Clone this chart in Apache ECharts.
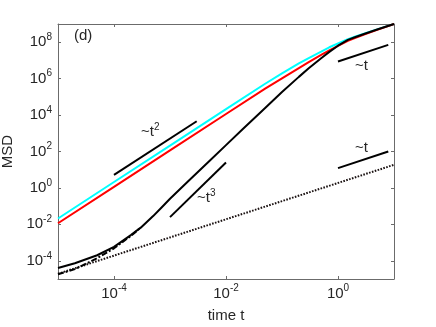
<!DOCTYPE html>
<html><head><meta charset="utf-8">
<script src="https://cdn.jsdelivr.net/npm/echarts@6/dist/echarts.min.js"></script>
<style>html,body{margin:0;padding:0;background:#fff}#c{width:436px;height:327px}</style>
</head><body><div id="c"></div>
<script>
// ---- data (time t, MSD) ----
const cyanTime = [1e-5,1e-4,1e-3,1e-2,0.05,0.1,0.2,0.3,0.5,0.7,1,1.5,2,3,5,10];
const cyanMSD  = [0.0210,2.11,210,2.11e4,5.24e5,1.95e6,6.81e6,1.35e7,3.06e7,5.27e7,8.51e7,1.45e8,1.99e8,3.01e8,5.06e8,1.0e9];
const redTime  = [1e-5,1e-4,1e-3,1e-2,0.05,0.1,0.2,0.3,0.5,0.7,1,1.5,2,3,5,10];
const redMSD   = [0.0115,1.15,115,1.15e4,2.85e5,1.04e6,3.80e6,8.11e6,1.99e7,3.61e7,6.28e7,1.18e8,1.68e8,2.69e8,4.74e8,1.0e9];
const blackTime = [1e-5,2e-5,5e-5,1e-4,2e-4,3e-4,5e-4,7e-4,1e-3,2e-3,5e-3,0.01,0.02,0.05,0.1,0.2,0.3,0.5,0.7,1,1.5,2,3,5,10];
const blackMSD  = [3.99e-5,7.31e-5,2.01e-4,5.81e-4,2.58e-3,6.58e-3,0.0284,0.0822,0.253,1.99,29.2,224,1.71e3,2.43e4,1.83e5,1.25e6,3.71e6,1.33e7,2.94e7,6.44e7,1.34e8,1.86e8,2.90e8,4.99e8,1.0e9];
const dashDotTime = [1e-5,2e-5,5e-5,1e-4,2e-4,3e-4];
const dashDotMSD  = [1.82e-5,3.47e-5,1.38e-4,4.86e-4,2.33e-3,6.58e-3];
const dottedTime = [1e-5,10];
const dottedMSD  = [1.94e-5,18.6];
// guide segments
const guideT2Time = [1e-4,3e-3],  guideT2MSD = [5.2,4.6e3];
const guideT3Time = [1e-3,1e-2],  guideT3MSD = [0.025,25];
const guideTUpTime = [1,7.9],     guideTUpMSD = [8.7e6,7.1e7];
const guideTLowTime = [1,7.9],    guideTLowMSD = [12.3,100];
// axis ranges (decades)
const xDecades = [-5,1];
const yDecades = [-5,9];

function pts(t, m){ return t.map((v,i)=>[Math.log10(v), Math.log10(m[i])]); }

const FONT = '"Liberation Sans", Arial, Helvetica, sans-serif';
const TXT = '#262626';
const AX = '#6b6b6b';
const richLab = {
  b: {fontSize: 15, lineHeight: 15, fontFamily: FONT, color: TXT},
  s: {fontSize: 10, lineHeight: 10, fontFamily: FONT, color: TXT, padding: [0,0,10,0]}
};
function powLabel(v){
  if (Math.round(v) !== v || Math.abs(v % 2) === 1) return '';
  return '{b|10}{s|' + v + '}';
}
const lineS = (name, t, m, color, type, w, z) => ({
  name, type: 'line', data: pts(t, m), showSymbol: false, symbol: 'none',
  lineStyle: {color, width: w, type}, z: z || 2, silent: true, animation: false
});

const chart = echarts.init(document.getElementById('c'), null, {renderer: 'canvas'});
const axisCommon = {
  type: 'value', splitLine: {show: false},
  axisLine: {show: true, onZero: false, lineStyle: {color: AX, width: 1}},
  axisTick: {show: true, inside: true, length: 3, lineStyle: {color: AX, width: 1}},
};
chart.setOption({
  animation: false,
  backgroundColor: '#fff',
  grid: {left: 58, right: 42, top: 24, bottom: 48, containLabel: false, outerBoundsMode: 'none'},
  xAxis: [
    Object.assign({}, axisCommon, {
      min: xDecades[0], max: xDecades[1], splitNumber: 3, position: 'bottom',
      name: 'time t', nameLocation: 'middle', nameGap: 20,
      nameTextStyle: {fontSize: 15, fontFamily: FONT, color: TXT},
      axisLabel: {show: true, margin: 7, showMinLabel: false, showMaxLabel: false, formatter: powLabel, rich: richLab}
    }),
    Object.assign({}, axisCommon, {
      min: xDecades[0], max: xDecades[1], splitNumber: 3, position: 'top',
      axisLabel: {show: false}
    })
  ],
  yAxis: [
    Object.assign({}, axisCommon, {
      min: yDecades[0], max: yDecades[1], splitNumber: 7, position: 'left',
      name: 'MSD', nameLocation: 'middle', nameGap: 42, nameRotate: 90,
      nameTextStyle: {fontSize: 15, fontFamily: FONT, color: TXT},
      axisLabel: {show: true, margin: 6, showMinLabel: false, showMaxLabel: false, formatter: powLabel, rich: richLab}
    }),
    Object.assign({}, axisCommon, {
      min: yDecades[0], max: yDecades[1], splitNumber: 7, position: 'right',
      axisLabel: {show: false}
    })
  ],
  series: [
    lineS('dotted', dottedTime, dottedMSD, '#1a1111', [1.6,1.4], 2, 2),
    lineS('dashdot', dashDotTime, dashDotMSD, '#000', [6,2,2,2], 2, 2),
    lineS('cyan', cyanTime, cyanMSD, '#00ffff', 'solid', 2, 3),
    lineS('red', redTime, redMSD, '#ff0000', 'solid', 2, 3),
    lineS('black', blackTime, blackMSD, '#000000', 'solid', 2, 4),
    lineS('g2', guideT2Time, guideT2MSD, '#000', 'solid', 2, 5),
    lineS('g3', guideT3Time, guideT3MSD, '#000', 'solid', 2, 5),
    lineS('g1a', guideTUpTime, guideTUpMSD, '#000', 'solid', 2, 5),
    lineS('g1b', guideTLowTime, guideTLowMSD, '#000', 'solid', 2, 5)
  ],
  graphic: [
    {type: 'text', left: 74, top: 28, style: {text: '(d)', font: '15px ' + FONT, fill: TXT}},
    {type: 'text', left: 141, top: 122, style: {text: '~t{s|2}', font: '15px ' + FONT, fill: TXT, rich: {s: {fontSize: 10, fontFamily: FONT, fill: TXT, padding: [0,0,10,0]}}}},
    {type: 'text', left: 197, top: 188, style: {text: '~t{s|3}', font: '15px ' + FONT, fill: TXT, rich: {s: {fontSize: 10, fontFamily: FONT, fill: TXT, padding: [0,0,10,0]}}}},
    {type: 'text', left: 355, top: 58, style: {text: '~t', font: '15px ' + FONT, fill: TXT}},
    {type: 'text', left: 355, top: 140, style: {text: '~t', font: '15px ' + FONT, fill: TXT}}
  ]
});
</script>
</body></html>
